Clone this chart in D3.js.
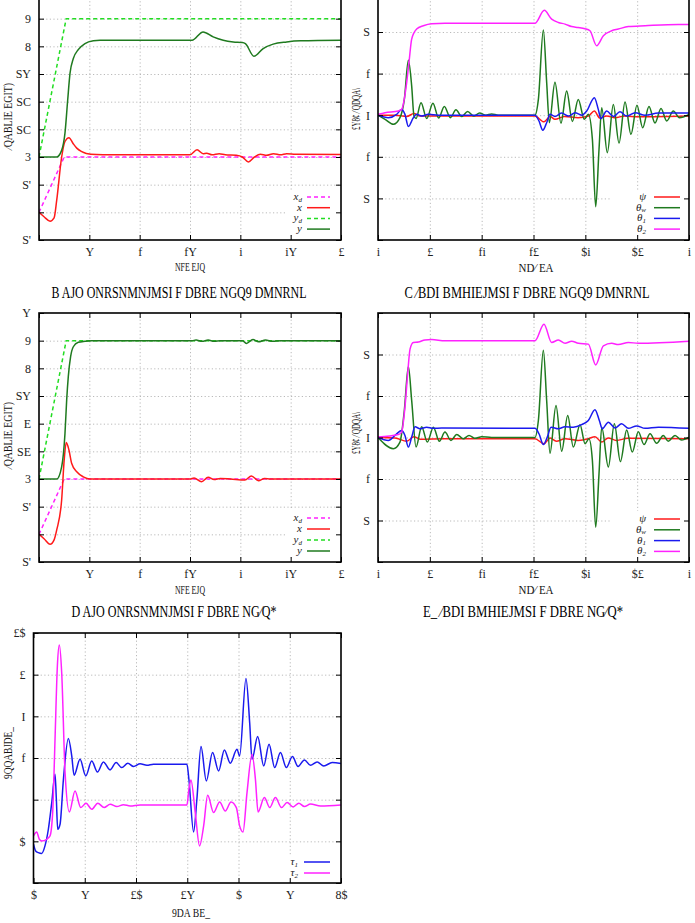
<!DOCTYPE html>
<html><head><meta charset="utf-8">
<script src="https://cdn.jsdelivr.net/npm/d3@7"></script>
<style>body{margin:0;background:#fff}svg{display:block}</style>
</head><body>
<svg id="c" width="695" height="923"></svg>
<script>
// ---------- tick values & labels ----------
const timeTicks = [0,5,10,15,20,25,30];
const acXLabels = ["", "Y", "f", "fY", "i", "iY", "£"];
const bdXLabels = ["i", "£", "fi", "f£", "$i", "$£", "i"];
const eXLabels  = ["$", "Y", "£$", "£Y", "$", "Y", "8$"];
const posTicks  = [-1.5,-1,-0.5,0,0.5,1,1.5,2,2.5,3];
const aYLabels  = ["S'", "", "S'", "3", "SC", "SC", "SY", "8", "9", ""];
const cYLabels  = ["S'", "", "S'", "3", "SE", "E", "SY", "8", "9", "Y"];
const angTicks  = [-3,-2,-1,0,1,2,3];
const angLabels = ["", "S", "f", "I", "f", "S", ""];
const tauTicks  = [-2,0,2,4,6,8,10];
const tauLabels = ["", "$", "", "f", "I", "£", "£$"];

// ---------- panel (a) ----------
const aXdT = [0, 2.5, 30],  aXdV = [-1, 0, 0];
const aYdT = [0, 2.7, 30],  aYdV = [0, 2.5, 2.5];
const aXT = [0,0.5,1.1,1.5,1.76,2.25,2.58,2.98,3.4,3.75,4.2,4.7,5.7,7,15,15.7,16.3,16.65,17.2,17.9,18.5,19.6,20.2,20.8,21.4,22.0,22.6,23.3,24.0,24.6,25.5,30];
const aXV = [-1,-1.08,-1.16,-1.1,-0.78,0,0.28,0.35,0.24,0.16,0.1,0.065,0.045,0.04,0.04,0.13,0.06,0.07,0.04,0.06,0.04,0.03,0,-0.09,0,0.05,0.03,0.06,0.04,0.06,0.05,0.045];
const aYT = [0,1.75,2.25,2.58,2.85,3.08,3.41,3.9,4.57,5.4,6.06,15.2,16.3,17.3,18.3,19.3,20.2,20.5,21.35,22.27,23.26,24.6,26,30];
const aYV = [0,0,0.12,0.43,1.03,1.51,1.78,1.94,2.05,2.1,2.11,2.11,2.26,2.17,2.11,2.08,2.07,2.05,1.82,1.96,2.04,2.08,2.1,2.11];

// ---------- panel (c) ----------
const cXdT = [0, 2.5, 30],  cXdV = [-1, 0, 0];
const cYdT = [0, 2.7, 30],  cYdV = [0, 2.5, 2.5];
const cXT = [0,0.5,1.1,1.5,1.76,2.25,2.5,2.71,2.98,3.25,3.75,4.4,5.07,15,15.4,16.15,16.8,17.4,18,19,20.45,21.1,21.8,22.4,23,30];
const cXV = [-1,-1.08,-1.18,-1.1,-0.92,-0.38,0.34,0.66,0.52,0.28,0.13,0.04,0,0,0.02,-0.05,0.03,-0.01,0.01,0,-0.02,0.054,-0.03,0.01,0,0];
const cYT = [0,1.76,2.25,2.58,2.75,2.91,3.14,3.41,3.9,4.57,5.2,15.2,15.6,16.2,16.8,17.4,18,20.2,20.6,21.25,21.8,22.5,23.2,24,30];
const cYV = [0,0,0.22,0.82,1.43,1.85,2.21,2.39,2.47,2.49,2.5,2.5,2.51,2.49,2.51,2.49,2.5,2.5,2.45,2.52,2.48,2.51,2.49,2.5,2.5];

// ---------- panel (b) ----------
const bPsiT = [0,1.64,2.77,3.47,4.05,6.46,15.14,16.01,16.6,17.07,18,19.3,20.3,20.87,21.4,22.06,22.86,23.8,25.1,30];
const bPsiV = [0,0,-0.03,0.04,-0.02,-0.02,-0.02,-0.16,-0.03,-0.1,-0.03,-0.06,-0.02,0.1,-0.07,-0.02,-0.06,-0.02,-0.04,-0.02];
const bThwT = [0,0.68,1.48,2.12,2.54,2.93,3.25,3.47,3.67,4.15,4.7,5.3,5.85,6.4,6.98,7.52,8.07,8.65,9.23,9.8,10.4,10.96,11.6,15.14,15.47,15.95,16.27,16.53,17.07,17.65,18.2,18.75,19.32,19.9,20.29,20.68,21.0,21.32,21.58,22.12,22.7,23.25,23.83,24.4,24.98,25.53,26.14,26.72,27.3,27.85,28.49,29.07,30];
const bThwV = [0,-0.1,-0.22,-0.06,0.38,1.32,0.7,-0.02,-0.08,0.3,-0.08,0.29,-0.07,0.21,-0.06,0.13,-0.03,0.09,-0.02,0.05,0,0.03,0,0,0.38,2.05,0.79,-0.18,0.79,-0.19,0.58,-0.15,0.38,-0.1,0.02,-0.58,-2.2,-0.82,0.18,-0.9,0.26,-0.67,0.32,-0.46,0.24,-0.3,0.21,-0.19,0.16,-0.14,0.1,-0.06,0.02];
const bTh1T = [0,1.0,1.8,2.28,2.6,2.93,3.41,3.73,4.2,4.86,5.82,15.14,15.53,15.9,16.27,16.6,17.07,17.7,18.4,19.0,19.65,20.13,20.87,21.25,21.5,22.06,22.7,23.34,23.99,24.8,25.76,27.04,30];
const bTh1V = [0,-0.06,0.02,0.14,0.02,-0.27,-0.06,0.02,-0.02,0.02,0,0,-0.14,-0.36,-0.18,0.02,-0.03,0.05,-0.02,0.06,0,0.1,0.42,0.14,-0.08,0.1,-0.03,0.08,-0.02,0.06,0,0.05,0.05];
const bTh2T = [0,0.68,1.96,2.28,2.77,2.99,3.25,3.73,4.37,5.18,6.46,15.14,16.04,16.75,17.4,18.04,18.68,19.3,19.97,20.45,21.09,21.74,22.54,23.18,24.15,25.76,28.97,30];
const bTh2V = [0.02,0.06,0.1,0.14,0.79,1.27,1.83,2.07,2.15,2.2,2.21,2.21,2.52,2.31,2.23,2.19,2.13,2.11,2.08,2.03,1.67,1.91,2.03,2.07,2.13,2.15,2.18,2.18];

// ---------- panel (d) ----------
const dPsiT = [0,1.64,2.77,3.47,4.05,6.46,15.14,16.01,16.6,17.2,18.04,19.3,20.29,20.93,21.58,22.2,23.0,24.1,30];
const dPsiV = [0,-0.01,-0.09,0.02,-0.04,-0.03,-0.03,-0.15,-0.01,-0.09,-0.03,-0.07,-0.03,0.02,-0.11,-0.01,-0.07,-0.02,-0.03];
const dThwT = [0,1.48,2.12,2.54,2.93,3.25,3.67,4.21,4.76,5.34,5.92,6.46,7.04,7.59,8.23,8.78,9.36,10.0,10.96,15.14,15.47,15.95,16.27,16.59,17.17,17.72,18.3,18.84,19.49,19.97,20.35,20.68,21.0,21.32,21.58,22.22,22.8,23.38,23.99,24.53,25.11,25.66,26.24,26.88,27.52,28.0,28.65,29.29,30];
const dThwV = [0,-0.27,-0.11,0.65,1.71,0.89,-0.23,0.26,-0.11,0.25,-0.09,0.13,-0.07,0.07,-0.03,0.05,-0.02,0.02,0,0,0.41,2.1,0.89,-0.38,0.77,-0.33,0.53,-0.23,0.31,-0.15,-0.03,-0.55,-2.16,-0.87,0.25,-0.71,0.33,-0.58,0.18,-0.35,0.14,-0.17,0.09,-0.14,0.05,-0.09,0.05,-0.06,0.01];
const dTh1T = [0,1.0,1.64,2.28,2.6,2.93,3.25,3.57,4.05,4.69,5.34,6.14,15.14,15.53,15.95,16.33,16.69,17.4,18.04,18.84,19.65,20.29,20.93,21.35,21.64,22.22,22.86,23.5,24.15,24.95,25.76,27.04,30];
const dTh1V = [0,-0.07,0.05,0.17,0.05,-0.23,0.01,0.26,0.21,0.25,0.22,0.23,0.22,0.09,-0.17,0.01,0.25,0.21,0.26,0.25,0.31,0.41,0.67,0.41,0.21,0.37,0.23,0.33,0.22,0.28,0.22,0.25,0.22];
const dTh2T = [0,1.96,2.28,2.6,2.86,3.09,3.41,3.89,4.53,5.18,6.46,15.14,16.01,16.75,17.4,18.04,18.68,19.33,20.29,21.0,21.74,22.54,23.18,24.15,25.11,30];
const dTh2V = [0.01,0.07,0.13,0.73,1.53,2.13,2.29,2.3,2.35,2.36,2.33,2.33,2.73,2.29,2.35,2.27,2.32,2.27,2.25,1.75,2.21,2.27,2.24,2.29,2.27,2.32];

// ---------- panel (e) ----------
const eTau1T = [0,0.21,0.47,0.8,1.12,1.45,1.78,2.1,2.23,2.36,2.59,2.92,3.4,3.73,3.96,4.54,5.1,5.68,6.24,6.82,7.47,8.06,8.61,9.2,9.76,10.4,11.06,11.7,14.97,15.16,15.62,15.94,16.34,16.86,17.47,18.06,18.62,19.2,19.85,20.11,20.73,21.09,21.32,21.87,22.46,22.98,23.53,24.09,24.67,25.26,25.81,26.43,27.02,27.67,28.32,29.14,30];
const eTau1V = [-0.14,-0.46,-0.54,-0.58,-0.22,0.58,1.86,3.22,2.02,0.58,0.82,2.98,4.94,4.1,3.17,3.94,3.14,3.86,3.33,3.81,3.43,3.78,3.54,3.75,3.59,3.72,3.65,3.7,3.7,2.98,0.45,2.02,4.55,2.9,4.26,3.38,4.39,3.75,4.42,4.1,7.82,5.7,3.94,5.03,3.62,4.66,3.54,4.26,3.54,4.07,3.59,3.91,3.65,3.81,3.62,3.78,3.73];
const eTau2T = [0,0.31,0.57,0.8,1.29,1.61,1.87,2.1,2.33,2.52,2.75,3.08,3.5,4.05,4.61,5.13,5.68,6.27,6.89,7.48,8.13,8.78,9.43,10.4,14.97,15.16,15.36,15.78,16.2,16.6,16.99,17.57,18.16,18.71,19.27,19.79,20.11,20.44,20.83,21.32,21.65,21.91,22.52,23.05,23.6,24.19,24.74,25.33,25.88,26.43,27.02,28.0,30];
const eTau2V = [0.26,0.45,0.1,0.02,0.1,0.26,1.38,4.9,8.43,9.42,8.1,3.3,1.41,2.42,1.62,1.83,1.54,1.83,1.62,1.78,1.67,1.76,1.7,1.75,1.75,2.5,2.95,1.38,-0.22,0.74,2.21,1.38,1.89,1.46,1.89,1.62,0.74,0.45,2.34,4.18,2.98,1.41,2.1,1.62,2.1,1.62,1.86,1.65,1.83,1.67,1.79,1.7,1.75];

// ---------- drawing ----------
const svg = d3.select("#c");
const SERIF = "'Liberation Serif','DejaVu Serif',serif";
const RED = "#ff1a1a", DKGREEN = "#1f7a1f", LTGREEN = "#22dd22", MAG = "#ff22ff", BLUE = "#1a1aee";

function zip(t, v) { return t.map((d, i) => [d, v[i]]); }

function panel(o) {
  const g = svg.append("g");
  const x = d3.scaleLinear().domain([0, 30]).range([o.l, o.r]);
  const y = d3.scaleLinear().domain(o.yDomain).range([o.b, o.t]);
  const W = o.r - o.l, H = o.b - o.t;
  const clipId = "clip" + o.name;
  svg.append("clipPath").attr("id", clipId).append("rect")
    .attr("x", o.l).attr("y", o.t).attr("width", W).attr("height", H);

  // grid
  const inX = timeTicks.slice(1, -1), inY = o.yTicks.slice(1, -1);
  const gx = g.append("g").attr("transform", `translate(0,${o.b})`)
    .call(d3.axisBottom(x).tickValues(inX).tickSize(-H).tickFormat(""));
  const gy = g.append("g").attr("transform", `translate(${o.l},0)`)
    .call(d3.axisLeft(y).tickValues(inY).tickSize(-W).tickFormat(""));
  [gx, gy].forEach(a => {
    a.select(".domain").remove();
    a.selectAll("line").attr("stroke", "#a8a8a8").attr("stroke-width", 0.8).attr("stroke-dasharray", "1.2,2.4");
  });

  // legend background (hides grid under legend)
  if (o.legBox) g.append("rect").attr("x", o.legBox[0]).attr("y", o.legBox[1])
    .attr("width", o.legBox[2]).attr("height", o.legBox[3]).attr("fill", "#fff");

  // series
  const plot = g.append("g").attr("clip-path", `url(#${clipId})`);
  o.series.forEach(s => {
    const line = d3.line().x(d => x(d[0])).y(d => y(d[1]))
      .curve(s.dash ? d3.curveLinear : d3.curveMonotoneX);
    plot.append("path").datum(zip(s.t, s.v)).attr("d", line)
      .attr("fill", "none").attr("stroke", s.color).attr("stroke-width", 1.5)
      .attr("stroke-dasharray", s.dash ? "4,3" : null);
  });

  // axes with inward ticks + mirror
  const fmt = (labels, ticks) => d => labels[ticks.indexOf(d)];
  const ax = [
    g.append("g").attr("transform", `translate(0,${o.b})`)
      .call(d3.axisBottom(x).tickValues(timeTicks).tickSize(-5).tickPadding(7).tickFormat(fmt(o.xLabels, timeTicks))),
    g.append("g").attr("transform", `translate(0,${o.t})`)
      .call(d3.axisTop(x).tickValues(timeTicks).tickSize(-5).tickFormat("")),
    g.append("g").attr("transform", `translate(${o.l},0)`)
      .call(d3.axisLeft(y).tickValues(o.yTicks).tickSize(-5).tickPadding(8).tickFormat(fmt(o.yLabels, o.yTicks))),
    g.append("g").attr("transform", `translate(${o.r},0)`)
      .call(d3.axisRight(y).tickValues(o.yTicks).tickSize(-5).tickFormat(""))
  ];
  ax.forEach(a => {
    a.select(".domain").remove();
    a.selectAll("line").attr("stroke", "#000").attr("stroke-width", 1);
    a.selectAll("text").attr("font-family", SERIF).attr("font-size", 12).attr("fill", "#222");
  });
  g.append("rect").attr("x", o.l).attr("y", o.t).attr("width", W).attr("height", H)
    .attr("fill", "none").attr("stroke", "#000").attr("stroke-width", 1.6);

  // legend
  o.legend.forEach((e, i) => {
    const yy = o.legY + i * o.legDy;
    const t = g.append("text").attr("x", o.legTx).attr("y", yy + 3).attr("text-anchor", "end")
      .attr("font-family", SERIF).attr("font-style", "italic").attr("font-size", 11).attr("fill", "#222");
    t.append("tspan").text(e.main);
    if (e.sub) t.append("tspan").attr("font-size", 7).attr("dy", 1.5).text(e.sub);
    g.append("line").attr("x1", o.legX1).attr("x2", o.legX2).attr("y1", yy).attr("y2", yy)
      .attr("stroke", e.color).attr("stroke-width", 1.5).attr("stroke-dasharray", e.dash ? "4,3" : null);
  });

  // axis titles
  g.append("text").attr("x", o.xlab[0]).attr("y", o.xlab[1]).attr("text-anchor", "middle")
    .attr("font-family", SERIF).attr("font-size", 12).attr("fill", "#111")
    .attr("textLength", o.xlab[3]).attr("lengthAdjust", "spacingAndGlyphs").text(o.xlab[2]);
  g.append("text").attr("transform", `translate(${o.ylab[0]},${o.ylab[1]}) rotate(-90)`).attr("text-anchor", "middle")
    .attr("font-family", SERIF).attr("font-size", 12).attr("fill", "#111")
    .attr("textLength", o.ylab[3]).attr("lengthAdjust", "spacingAndGlyphs").text(o.ylab[2]);
  if (o.title) g.append("text").attr("x", o.title[0]).attr("y", o.title[1]).attr("text-anchor", "middle")
    .attr("font-family", SERIF).attr("font-size", 16).attr("fill", "#000")
    .attr("textLength", o.title[3]).attr("lengthAdjust", "spacingAndGlyphs").text(o.title[2]);
}

const posLegend = () => [
  {main: "x", sub: "d", color: MAG, dash: true},
  {main: "x", color: RED},
  {main: "y", sub: "d", color: LTGREEN, dash: true},
  {main: "y", color: DKGREEN}
];
const angLegend = [
  {main: "ψ", color: RED},
  {main: "θ", sub: "w", color: DKGREEN},
  {main: "θ", sub: "1", color: BLUE},
  {main: "θ", sub: "2", color: MAG}
];

panel({name: "a", l: 39, r: 341, t: -9, b: 240, yDomain: [-1.5, 3], yTicks: posTicks,
  xLabels: acXLabels, yLabels: aYLabels,
  series: [
    {t: aXdT, v: aXdV, color: MAG, dash: true},
    {t: aXT, v: aXV, color: RED},
    {t: aYdT, v: aYdV, color: LTGREEN, dash: true},
    {t: aYT, v: aYV, color: DKGREEN}],
  legBox: [285, 190, 55, 45], legend: posLegend(), legY: 197, legDy: 10.7, legTx: 302, legX1: 307, legX2: 330,
  xlab: [190, 271, "NFE EJQ", 30], ylab: [12, 116, "⁄QABLIE EGIT)", 66],
  title: [179, 298, "B  AJO ONRSNMNJMSI F DBRE NGQ9  DMNRNL", 255]});

panel({name: "b", l: 378, r: 689, t: -9.6, b: 240, yDomain: [-3, 3], yTicks: angTicks,
  xLabels: bdXLabels, yLabels: angLabels,
  series: [
    {t: bPsiT, v: bPsiV, color: RED},
    {t: bThwT, v: bThwV, color: DKGREEN},
    {t: bTh1T, v: bTh1V, color: BLUE},
    {t: bTh2T, v: bTh2V, color: MAG}],
  legBox: [612, 190, 76, 45], legend: angLegend, legY: 197, legDy: 10.7, legTx: 646, legX1: 654, legX2: 680,
  xlab: [536, 272, "ND⁄ EA", 35], ylab: [360, 109, "£Y8¢ ⁄ QDQA\\", 42],
  title: [527, 298, "C  ⁄BDI  BMHIEJMSI F DBRE NGQ9  DMNRNL", 245]});

panel({name: "c", l: 39, r: 341, t: 313, b: 562, yDomain: [-1.5, 3], yTicks: posTicks,
  xLabels: acXLabels, yLabels: cYLabels,
  series: [
    {t: cXdT, v: cXdV, color: MAG, dash: true},
    {t: cXT, v: cXV, color: RED},
    {t: cYdT, v: cYdV, color: LTGREEN, dash: true},
    {t: cYT, v: cYV, color: DKGREEN}],
  legBox: [285, 510, 55, 47], legend: posLegend(), legY: 518, legDy: 11, legTx: 302, legX1: 307, legX2: 330,
  xlab: [190, 594, "NFE EJQ", 30], ylab: [12, 435, "⁄QABLIE EGIT)", 66],
  title: [174, 617, "D  AJO ONRSNMNJMSI F DBRE NG⁄Q*", 205]});

panel({name: "d", l: 378, r: 689, t: 313, b: 562, yDomain: [-3, 3], yTicks: angTicks,
  xLabels: bdXLabels, yLabels: angLabels,
  series: [
    {t: dPsiT, v: dPsiV, color: RED},
    {t: dThwT, v: dThwV, color: DKGREEN},
    {t: dTh1T, v: dTh1V, color: BLUE},
    {t: dTh2T, v: dTh2V, color: MAG}],
  legBox: [612, 511, 76, 46], legend: angLegend, legY: 519, legDy: 10.8, legTx: 646, legX1: 654, legX2: 680,
  xlab: [536, 594, "ND⁄ EA", 35], ylab: [360, 433, "£Y8¢ ⁄ QDQA\\", 42],
  title: [523, 617, "E_ ⁄BDI  BMHIEJMSI F DBRE NG⁄Q*", 200]});

panel({name: "e", l: 33.5, r: 341, t: 633, b: 883, yDomain: [-2, 10], yTicks: tauTicks,
  xLabels: eXLabels, yLabels: tauLabels,
  series: [
    {t: eTau1T, v: eTau1V, color: BLUE},
    {t: eTau2T, v: eTau2V, color: MAG}],
  legBox: [285, 855, 55, 24], legend: [{main: "τ", sub: "1", color: BLUE}, {main: "τ", sub: "2", color: MAG}],
  legY: 862, legDy: 11, legTx: 298, legX1: 304, legX2: 330,
  xlab: [191, 917, "9DA BE_", 38], ylab: [12, 753, "9QQABJDE_", 52]});
</script>
</body></html>
